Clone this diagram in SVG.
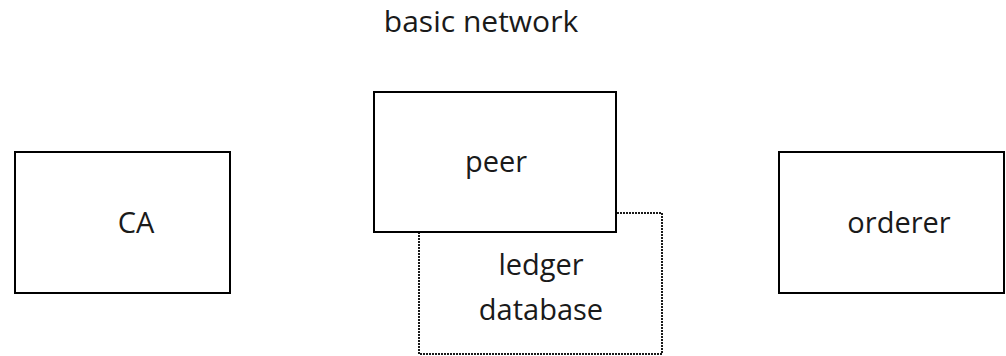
<svg xmlns="http://www.w3.org/2000/svg" width="1006" height="356" viewBox="0 0 1006 356">
  <style>
    .box { fill: #ffffff; stroke: #000000; stroke-width: 2; }
    .dotted { fill: #ffffff; stroke: #1a1a1a; stroke-width: 2; stroke-dasharray: 2 1; }
    .label { font-family: "Open Sans", "Liberation Sans", sans-serif; font-size: 29px; fill: #1a1a1a; text-anchor: middle; }
    .title { font-size: 30px; }
  </style>
  <rect width="1006" height="356" fill="#ffffff"/>
  <text class="label title" x="481" y="32">basic network</text>
  <g id="connectors"></g>
  <g id="ca">
    <rect class="box" x="15" y="152" width="215" height="141"/>
    <text class="label" x="136" y="233">CA</text>
  </g>
  <g id="ledger-database">
    <rect class="dotted" x="419" y="213" width="243" height="141"/>
    <text class="label" x="541" y="275">ledger</text>
    <text class="label" x="541" y="320">database</text>
  </g>
  <g id="peer">
    <rect class="box" x="374" y="92" width="242" height="140"/>
    <text class="label" x="496" y="172">peer</text>
  </g>
  <g id="orderer">
    <rect class="box" x="779" y="152" width="225" height="141"/>
    <text class="label" x="899" y="233">orderer</text>
  </g>
</svg>
